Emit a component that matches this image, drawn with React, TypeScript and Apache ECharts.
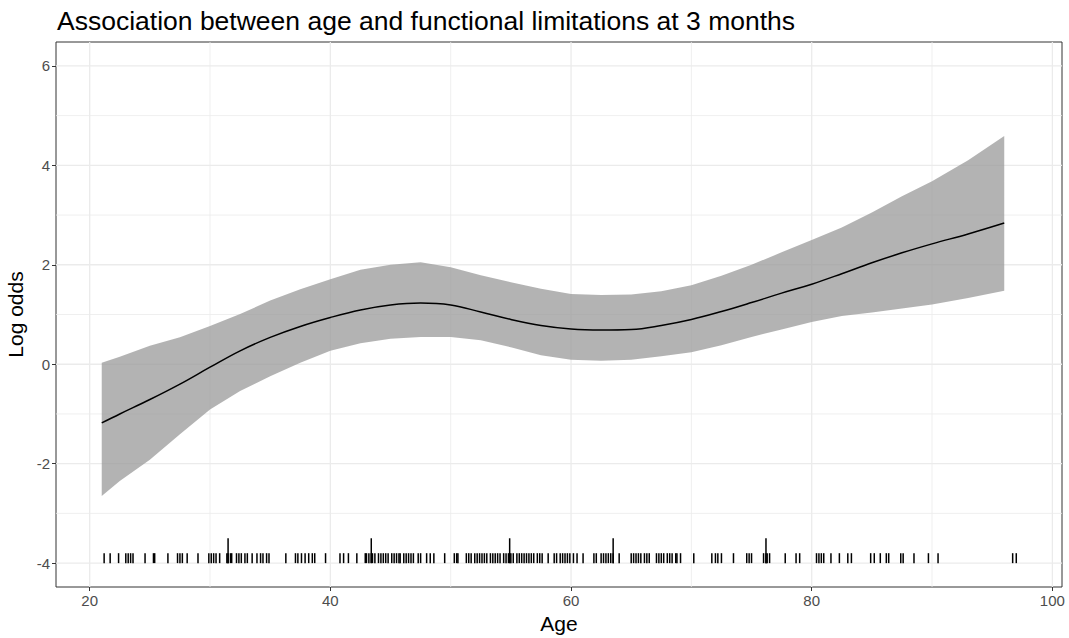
import React, { useEffect, useRef } from "react";
import * as echarts from "echarts";

const TITLE = "Association between age and functional limitations at 3 months";
const X_LABEL = "Age";
const Y_LABEL = "Log odds";
const X_TICKS = [20, 40, 60, 80, 100];
const X_MINOR = [30, 50, 70, 90];
const Y_TICKS = [-4, -2, 0, 2, 4, 6];
const Y_MINOR = [-3, -1, 1, 3, 5];

const AGE = [21, 22.5, 25, 27.5, 30, 32.5, 35, 37.5, 40, 42.5, 45, 47.5, 50, 52.5, 55, 57.5, 60, 62.5, 65, 67.5, 70, 72.5, 75, 77.5, 80, 82.5, 85, 87.5, 90, 93, 96];
const FIT = [-1.18, -1.0, -0.71, -0.4, -0.06, 0.27, 0.54, 0.76, 0.94, 1.09, 1.19, 1.23, 1.19, 1.05, 0.9, 0.78, 0.71, 0.69, 0.7, 0.78, 0.9, 1.06, 1.24, 1.43, 1.61, 1.82, 2.04, 2.24, 2.42, 2.62, 2.84];
const UPPER = [0.03, 0.15, 0.37, 0.54, 0.77, 1.01, 1.28, 1.51, 1.71, 1.9, 2.0, 2.05, 1.95, 1.79, 1.65, 1.52, 1.41, 1.39, 1.4, 1.47, 1.59, 1.78, 2.0, 2.25, 2.5, 2.75, 3.05, 3.38, 3.68, 4.1, 4.59];
const LOWER = [-2.65, -2.35, -1.92, -1.41, -0.91, -0.54, -0.24, 0.03, 0.27, 0.42, 0.51, 0.55, 0.55, 0.48, 0.34, 0.18, 0.09, 0.07, 0.09, 0.16, 0.24, 0.38, 0.55, 0.7, 0.85, 0.97, 1.04, 1.12, 1.2, 1.33, 1.48];

const RUG = [21.2, 21.7, 22.4, 23.0, 23.2, 23.4, 23.6, 24.6, 25.3, 25.4, 26.5, 27.3, 27.5, 27.7, 28.1, 29.0, 29.9, 30.1, 30.3, 30.5, 30.8, 31.4, 31.5, 31.7, 31.8, 32.2, 32.4, 32.6, 32.9, 33.1, 33.5, 33.9, 34.2, 34.4, 34.7, 34.9, 36.3, 37.1, 37.3, 37.6, 37.9, 38.2, 38.5, 38.7, 39.6, 40.8, 41.1, 41.5, 42.2, 42.9, 43.0, 43.2, 43.4, 43.5, 43.7, 44.0, 44.2, 44.4, 44.6, 44.8, 45.1, 45.3, 45.5, 45.7, 45.8, 46.1, 46.3, 46.5, 46.7, 46.9, 47.3, 47.5, 48.0, 48.3, 48.6, 49.5, 50.3, 50.5, 50.6, 51.3, 51.5, 51.7, 52.0, 52.2, 52.4, 52.6, 52.8, 53.0, 53.3, 53.5, 53.7, 53.9, 54.1, 54.4, 54.6, 54.8, 54.9, 55.0, 55.2, 55.5, 55.7, 55.9, 56.1, 56.3, 56.5, 56.7, 56.9, 57.2, 57.4, 57.6, 58.1, 58.6, 58.8, 59.1, 59.3, 59.5, 59.7, 59.9, 60.2, 60.5, 61.0, 61.9, 62.1, 62.5, 62.7, 62.9, 63.1, 63.3, 63.5, 64.0, 65.0, 65.2, 65.4, 65.6, 65.8, 66.1, 66.3, 66.5, 67.1, 67.3, 67.5, 67.7, 68.0, 68.2, 68.4, 68.7, 68.8, 69.1, 70.2, 71.7, 72.0, 72.2, 72.5, 73.5, 74.6, 74.8, 75.0, 76.0, 76.2, 76.3, 76.5, 77.8, 78.7, 79.0, 80.4, 80.6, 80.8, 81.0, 81.6, 82.3, 83.0, 83.3, 84.9, 85.2, 85.7, 86.2, 86.4, 87.4, 87.6, 88.5, 89.7, 90.5, 96.7, 97.0];
const KNOTS = [31.5, 43.4, 54.9, 63.5, 76.2];
const RUG_BASE = -4;
const RUG_TOP = -3.8;
const KNOT_TOP = -3.5;

const X_MIN = 17.2;
const X_MAX = 100.8;
const Y_MIN = -4.48;
const Y_MAX = 6.48;

const FONT = "'Liberation Sans', Arial, Helvetica, sans-serif";

export default function App() {
  const ref = useRef<HTMLDivElement>(null);
  useEffect(() => {
    if (!ref.current) return;
    const chart = echarts.init(ref.current, null, { renderer: "svg" });

    const vGrid = (vals: number[], width: number) => ({
      type: "custom",
      silent: true,
      z: 0,
      clip: true,
      data: vals.map((v) => [v, 0]),
      encode: { x: 0, y: 1 },
      renderItem: (params: any, api: any) => {
        const cs = params.coordSys;
        const p = api.coord([api.value(0), 0]);
        return {
          type: "line",
          shape: { x1: p[0], y1: cs.y, x2: p[0], y2: cs.y + cs.height },
          style: { stroke: "#EBEBEB", lineWidth: width },
        };
      },
    });
    const hGrid = (vals: number[], width: number) => ({
      type: "custom",
      silent: true,
      z: 0,
      clip: true,
      data: vals.map((v) => [50, v]),
      encode: { x: 0, y: 1 },
      renderItem: (params: any, api: any) => {
        const cs = params.coordSys;
        const p = api.coord([50, api.value(1)]);
        return {
          type: "line",
          shape: { x1: cs.x, y1: p[1], x2: cs.x + cs.width, y2: p[1] },
          style: { stroke: "#EBEBEB", lineWidth: width },
        };
      },
    });
    const rug = (vals: number[], top: number) => ({
      type: "custom",
      silent: true,
      z: 5,
      clip: true,
      data: vals.map((v) => [v, RUG_BASE]),
      encode: { x: 0, y: 1 },
      renderItem: (params: any, api: any) => {
        const a = api.coord([api.value(0), RUG_BASE]);
        const b = api.coord([api.value(0), top]);
        return {
          type: "line",
          shape: { x1: a[0], y1: a[1], x2: b[0], y2: b[1] },
          style: { stroke: "#000", lineWidth: 1.5 },
        };
      },
    });

    chart.setOption({
      animation: false,
      backgroundColor: "#fff",
      textStyle: { fontFamily: FONT },
      title: {
        text: TITLE,
        left: 52,
        top: 2,
        textStyle: { fontSize: 26.5, fontWeight: "normal", color: "#000", fontFamily: FONT },
      },
      grid: {
        left: 56,
        right: 7,
        top: 42,
        bottom: 51,
        show: true,
        borderColor: "#333",
        borderWidth: 1,
        backgroundColor: "transparent",
        containLabel: false,
        outerBoundsMode: "none",
      },
      xAxis: {
        type: "value",
        min: X_MIN,
        max: X_MAX,
        name: X_LABEL,
        nameLocation: "middle",
        nameGap: 23,
        nameTextStyle: { fontSize: 21, color: "#000", fontFamily: FONT },
        axisLine: { show: false, onZero: false },
        splitLine: { show: false },
        axisTick: { show: true, customValues: X_TICKS, length: 4, lineStyle: { color: "#333" } },
        axisLabel: { customValues: X_TICKS, color: "#4D4D4D", fontSize: 15, margin: 6, fontFamily: FONT },
      },
      yAxis: {
        type: "value",
        min: Y_MIN,
        max: Y_MAX,
        name: Y_LABEL,
        nameLocation: "middle",
        nameGap: 23,
        nameRotate: 90,
        nameTextStyle: { fontSize: 21, color: "#000", fontFamily: FONT },
        axisLine: { show: false, onZero: false },
        splitLine: { show: false },
        axisTick: { show: true, customValues: Y_TICKS, length: 4, lineStyle: { color: "#333" } },
        axisLabel: { customValues: Y_TICKS, color: "#4D4D4D", fontSize: 15, margin: 6, fontFamily: FONT },
      },
      series: [
        vGrid(X_MINOR, 0.8),
        hGrid(Y_MINOR, 0.8),
        vGrid(X_TICKS, 1.3),
        hGrid(Y_TICKS, 1.3),
        {
          type: "custom",
          silent: true,
          z: 2,
          clip: true,
          data: AGE.map((a, i) => [a, UPPER[i]]),
          encode: { x: 0, y: 1 },
          renderItem: (params: any, api: any) => {
            if (params.dataIndex !== 0) return null;
            const pts: number[][] = [];
            for (let i = 0; i < AGE.length; i++) pts.push(api.coord([AGE[i], UPPER[i]]));
            for (let i = AGE.length - 1; i >= 0; i--) pts.push(api.coord([AGE[i], LOWER[i]]));
            return {
              type: "polygon",
              shape: { points: pts, smooth: 0 },
              style: { fill: "rgba(153,153,153,0.75)" },
            };
          },
        },
        {
          type: "line",
          z: 3,
          silent: true,
          smooth: 0.4,
          showSymbol: false,
          data: AGE.map((a, i) => [a, FIT[i]]),
          lineStyle: { color: "#000", width: 1.5 },
        },
        rug(RUG, RUG_TOP),
        rug(KNOTS, KNOT_TOP),
      ],
    } as any);
    return () => chart.dispose();
  }, []);
  return (
    <div
      ref={ref}
      style={{ position: "fixed", left: 0, top: 0, width: 1069, height: 638, background: "#fff" }}
    />
  );
}
